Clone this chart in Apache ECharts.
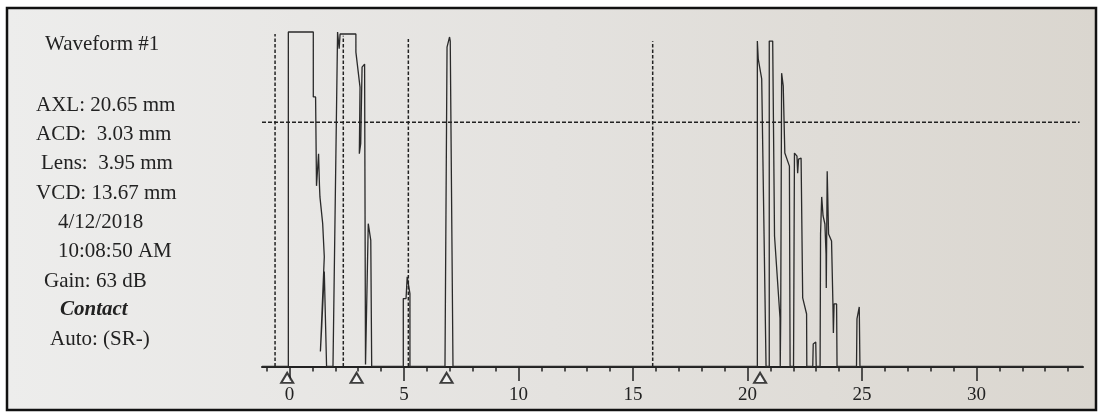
<!DOCTYPE html>
<html>
<head>
<meta charset="utf-8">
<script src="https://cdn.jsdelivr.net/npm/echarts@6/dist/echarts.min.js"></script>
<style>
  html, body { margin: 0; padding: 0; background: #fff; }
  #chart { width: 1101px; height: 415px; }
</style>
</head>
<body>
<div id="chart"></div>
<script>
// A-scan trace, [depth mm, amplitude %]
const waveform = [
    [-1.2, 0], [-0.05, 0], [-0.05, 100], [1.04, 100], [1.04, 80.6], [1.14, 80.6],
    [1.18, 54.0], [1.27, 63.6], [1.31, 54.0], [1.33, 50.7], [1.45, 42.7], [1.52, 32.8],
    [1.35, 4.5], [1.41, 12.2], [1.52, 28.4], [1.62, 0], [1.90, 0],
    [2.10, 100], [2.14, 100], [2.17, 95], [2.21, 99.4], [2.90, 99.4], [2.90, 94.0],
    [3.08, 83.5], [3.05, 63.6], [3.11, 66.6], [3.17, 89.5], [3.28, 90.4], [3.32, 0.6],
    [3.37, 0.6], [3.44, 42.7], [3.55, 37.7], [3.59, 0], [4.97, 0],
    [4.97, 20.3], [5.09, 20.3], [5.14, 26.8], [5.26, 21.8], [5.26, 0], [6.79, 0],
    [6.88, 95.5], [6.99, 98.5], [7.02, 97.3], [7.14, 0], [20.43, 0],
    [20.43, 97.3], [20.47, 91.9], [20.62, 86.0], [20.81, 0], [20.95, 0],
    [20.95, 97.3], [21.10, 97.3], [21.18, 39.0], [21.42, 14.5], [21.43, 0], [21.45, 14.5],
    [21.49, 87.7], [21.56, 83.9], [21.63, 63.8], [21.83, 59.9], [21.86, 0], [22.01, 0],
    [22.05, 63.8], [22.16, 62.9], [22.19, 57.8], [22.23, 62.0], [22.34, 62.3], [22.41, 20.5],
    [22.58, 15.7], [22.59, 0], [22.85, 0], [22.87, 6.7], [22.98, 7.3], [23.00, 0], [23.17, 0],
    [23.19, 39.6], [23.24, 50.7], [23.30, 45.0], [23.38, 42.6], [23.43, 33.6], [23.44, 23.5],
    [23.48, 58.4], [23.54, 39.6], [23.67, 37.5], [23.73, 18.7], [23.75, 10.0], [23.78, 18.7],
    [23.89, 18.7], [23.91, 0], [24.76, 0], [24.78, 14.2], [24.88, 17.8], [24.91, 0], [34.65, 0]
];
// gates (dashed verticals) and threshold
const gateX = [-0.63, 2.35, 5.19, 15.86];
const gateTop = [99.4, 98.9, 97.9, 97.2];
const thresholdY = 73;
const thresholdSpan = [-1.2, 34.5];
// triangle markers under the axis
const markerX = [-0.1, 2.93, 6.86, 20.55];
const majorTicks = [0, 5, 10, 15, 20, 25, 30];
const minorTicks = Array.from({ length: 36 }, (_, i) => i - 1);

// left-hand readout: text, x, y
const infoLines = [
    ['Waveform #1', 45, 44],
    ['AXL: 20.65 mm', 36, 105],
    ['ACD:  3.03 mm', 36, 134],
    ['Lens:  3.95 mm', 41, 163],
    ['VCD: 13.67 mm', 36, 193],
    ['4/12/2018', 58, 222],
    ['10:08:50 AM', 58, 251],
    ['Gain: 63 dB', 44, 281],
    ['Contact', 60, 310],
    ['Auto: (SR-)', 50, 339]
];

const ink = '#222';
const serif = '"Liberation Serif", "DejaVu Serif", serif';

const chart = echarts.init(document.getElementById('chart'));

const texts = infoLines.map(([t, x, y]) => ({
    type: 'text', x: x, y: y,
    style: {
        text: t,
        font: (t === 'Contact' ? 'italic bold ' : '') + '21px ' + serif,
        fill: ink,
        verticalAlign: 'middle'
    }
}));

const gateSeries = gateX.map((x, i) => ({
    type: 'line',
    data: [[x, 0], [x, gateTop[i]]],
    symbol: 'none',
    lineStyle: { color: ink, width: 1.5, type: [3.5, 2] },
    silent: true
}));

chart.setOption({
    animation: false,
    backgroundColor: 'transparent',
    graphic: [
        {
            type: 'rect', z: -10,
            shape: { x: 7, y: 8, width: 1089, height: 402 },
            style: {
                fill: new echarts.graphic.LinearGradient(0, 0, 1, 0, [
                    { offset: 0, color: '#ededec' },
                    { offset: 0.5, color: '#e4e2df' },
                    { offset: 1, color: '#dad6cf' }
                ]),
                stroke: '#111', lineWidth: 2.5
            }
        },
        ...texts
    ],
    grid: { left: 262, right: 18, top: 32, bottom: 45 },
    xAxis: [
        {
            type: 'value', min: -1.2, max: 34.65, position: 'bottom',
            axisLine: { show: true, lineStyle: { color: ink, width: 2 } },
            axisTick: { show: true, customValues: minorTicks, length: 5, lineStyle: { color: ink, width: 1.5 } },
            axisLabel: { show: false },
            splitLine: { show: false }
        },
        {
            type: 'value', min: -1.2, max: 34.65, position: 'bottom',
            axisLine: { show: false },
            axisTick: { show: true, customValues: majorTicks, length: 11, lineStyle: { color: ink, width: 1.5 } },
            axisLabel: { show: true, customValues: majorTicks, margin: 16, color: ink, fontFamily: serif, fontSize: 19 },
            splitLine: { show: false }
        }
    ],
    yAxis: { type: 'value', min: -1.05, max: 100, show: false },
    series: [
        {
            type: 'line',
            data: waveform,
            symbol: 'none',
            lineStyle: { color: '#2a2a2a', width: 1.3 },
            clip: false,
            silent: true
        },
        {
            type: 'line',
            data: thresholdSpan.map(x => [x, thresholdY]),
            symbol: 'none',
            lineStyle: { color: ink, width: 1.5, type: [4, 2] },
            silent: true
        },
        ...gateSeries,
        {
            type: 'scatter',
            data: markerX.map(x => [x, -3.4]),
            symbol: 'triangle',
            symbolSize: [12, 10],
            itemStyle: { color: '#f4f4f4', borderColor: '#111', borderWidth: 2 },
            clip: false,
            silent: true
        }
    ]
});
</script>
</body>
</html>
